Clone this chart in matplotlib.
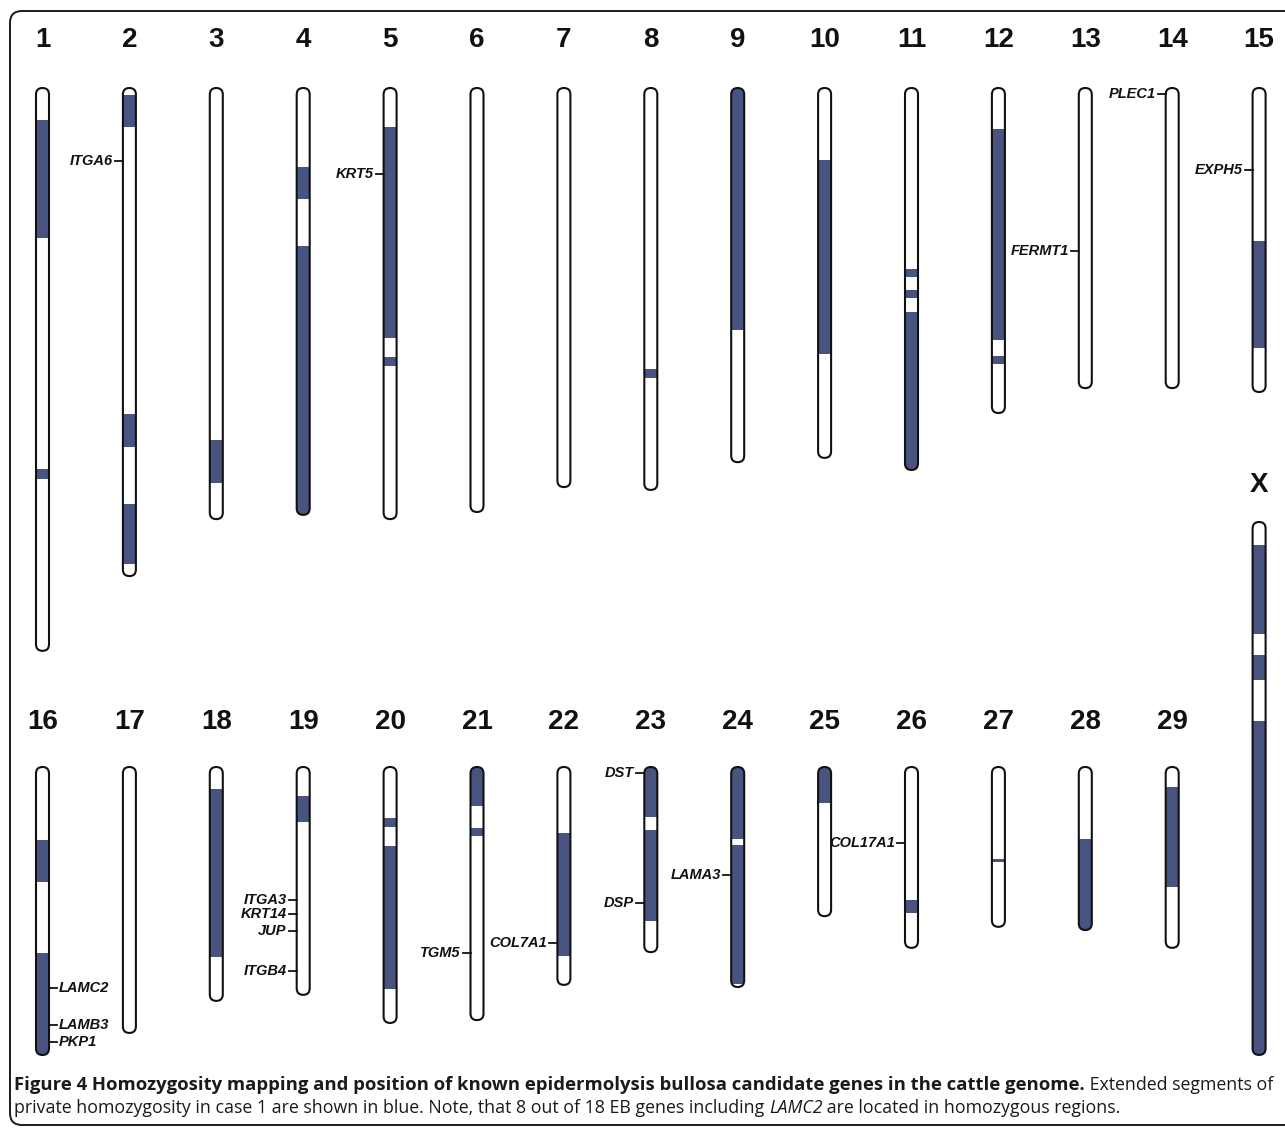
import matplotlib
matplotlib.use('Agg')
import matplotlib.pyplot as plt
from matplotlib.patches import FancyBboxPatch, Rectangle

# chromosome lengths (Mb) as drawn
chrom_names = ['1', '2', '3', '4', '5', '6', '7', '8', '9', '10', '11', '12', '13', '14', '15',
               '16', '17', '18', '19', '20', '21', '22', '23', '24', '25', '26', '27', '28', '29', 'X']
chrom_len = [158.1, 137.1, 121.1, 119.9, 121.1, 119.1, 112.1, 112.9, 105.1, 103.9, 107.3, 91.3, 84.3, 84.3, 85.4,
             80.9, 74.7, 65.7, 64.0, 71.9, 71.1, 61.2, 52.0, 61.8, 41.9, 50.8, 44.9, 45.8, 50.8, 149.7]

# homozygous segments (start, end) in Mb
segments = {
    '1': [(9.0, 42.1), (107.0, 109.8)],
    '2': [(2.0, 11.0), (91.6, 100.8), (116.9, 133.7)],
    '3': [(98.9, 111.0)],
    '4': [(22.2, 31.2), (44.4, 119.9)],
    '5': [(11.0, 70.2), (75.6, 78.1)],
    '8': [(78.9, 81.5)],
    '9': [(0.0, 68.0)],
    '10': [(20.2, 74.7)],
    '11': [(50.8, 53.1), (56.7, 59.0), (62.9, 107.3)],
    '12': [(11.5, 70.8), (75.3, 77.5)],
    '15': [(43.0, 73.0)],
    '16': [(20.5, 32.3), (52.2, 80.9)],
    '18': [(6.2, 53.4)],
    '19': [(8.1, 15.4)],
    '20': [(14.3, 16.9), (22.2, 62.4)],
    '21': [(0.0, 11.0), (17.1, 19.4)],
    '22': [(18.5, 53.1)],
    '23': [(0.0, 14.0), (17.7, 43.3)],
    '24': [(0.0, 20.2), (21.9, 60.9)],
    '25': [(0.0, 10.1)],
    '26': [(37.4, 41.0)],
    '27': [(25.8, 26.7)],
    '28': [(20.2, 45.8)],
    '29': [(5.6, 33.7)],
    'X': [(6.5, 31.5), (37.4, 44.4), (55.9, 149.7)],
}

# EB candidate genes: name, chromosome, position (Mb), side
gene_names = ['ITGA6', 'KRT5', 'FERMT1', 'PLEC1', 'EXPH5', 'LAMC2', 'LAMB3', 'PKP1',
              'ITGA3', 'KRT14', 'JUP', 'ITGB4', 'TGM5', 'COL7A1', 'DST', 'DSP', 'LAMA3', 'COL17A1']
gene_chrom = ['2', '5', '13', '14', '15', '16', '16', '16',
              '19', '19', '19', '19', '21', '22', '23', '23', '24', '26']
gene_pos = [20.5, 24.2, 45.8, 1.7, 23.0, 62.1, 72.5, 77.2,
            37.4, 41.3, 46.1, 57.3, 52.2, 49.4, 1.7, 38.2, 30.3, 21.3]
gene_side = ['L', 'L', 'L', 'L', 'L', 'R', 'R', 'R',
             'L', 'L', 'L', 'L', 'L', 'L', 'L', 'L', 'L', 'L']

blue = '#485380'
px_mb = 3.56   # drawing scale
hw = 6.5       # half width of a chromosome
x0, dx = 42.5, 86.9

fig = plt.figure(figsize=(12.85, 11.28), dpi=100)
ax = fig.add_axes([0, 0, 1, 1])
ax.set_xlim(0, 1285)
ax.set_ylim(1128, 0)
ax.axis('off')

# frame
ax.add_patch(FancyBboxPatch((10, 11), 1300, 1114, boxstyle='round,pad=0,rounding_size=12',
                            fc='none', ec='#1a1a1a', lw=1.4))


def place(name):
    i = chrom_names.index(name)
    if name == 'X':
        return x0 + 14 * dx, 522, 485
    if i < 15:
        return x0 + i * dx, 88, 40
    return x0 + (i - 15) * dx, 767, 722


for name, L in zip(chrom_names, chrom_len):
    x, top, ly = place(name)
    h = L * px_mb
    body = FancyBboxPatch((x - hw, top), 2 * hw, h, boxstyle=f'round,pad=0,rounding_size={hw}',
                          fc='white', ec='none', zorder=2)
    ax.add_patch(body)
    for s, e in segments.get(name, []):
        r = Rectangle((x - hw - 2, top + s * px_mb), 2 * hw + 4, (e - s) * px_mb,
                      fc=blue, ec='none', zorder=3)
        ax.add_patch(r)
        r.set_clip_path(body)
    ax.add_patch(FancyBboxPatch((x - hw, top), 2 * hw, h, boxstyle=f'round,pad=0,rounding_size={hw}',
                                fc='none', ec='#111111', lw=1.5, zorder=4))
    ax.text(x, ly, name, ha='center', va='center', fontsize=20, fontweight='bold',
            family='Liberation Sans', color='#111111')

for g, c, p, side in zip(gene_names, gene_chrom, gene_pos, gene_side):
    x, top, _ = place(c)
    y = top + p * px_mb
    if side == 'L':
        ax.plot([x - hw - 8, x - hw], [y, y], color='#111111', lw=1.3, zorder=5)
        ax.text(x - hw - 10, y, g, ha='right', va='center', fontsize=10.5, fontweight='bold',
                fontstyle='italic', family='Liberation Sans', color='#111111')
    else:
        ax.plot([x + hw, x + hw + 8], [y, y], color='#111111', lw=1.3, zorder=5)
        ax.text(x + hw + 10, y, g, ha='left', va='center', fontsize=10.5, fontweight='bold',
                fontstyle='italic', family='Liberation Sans', color='#111111')

# caption, written piece by piece
renderer = fig.canvas.get_renderer()
lines = [
    [('Figure 4 Homozygosity mapping and position of known epidermolysis bullosa candidate genes in the cattle genome.', 'bold', 'normal', 13.3),
     (' Extended segments of', 'normal', 'normal', 12.8)],
    [('private homozygosity in case 1 are shown in blue. Note, that 8 out of 18 EB genes including ', 'normal', 'normal', 12.8),
     ('LAMC2', 'normal', 'italic', 12.8),
     (' are located in homozygous regions.', 'normal', 'normal', 12.8)],
]
inv = ax.transData.inverted()
for k, pieces in enumerate(lines):
    xc = 14
    yc = 1090 + k * 23
    for txt, w, st, fs in pieces:
        t = ax.text(xc, yc, txt, ha='left', va='baseline', fontsize=fs, fontweight=w,
                    fontstyle=st, family='Open Sans', color='#1a1a1a')
        bb = t.get_window_extent(renderer)
        xc = inv.transform((bb.x1, 0))[0]

fig.savefig('out.png', dpi=100, facecolor='white')
